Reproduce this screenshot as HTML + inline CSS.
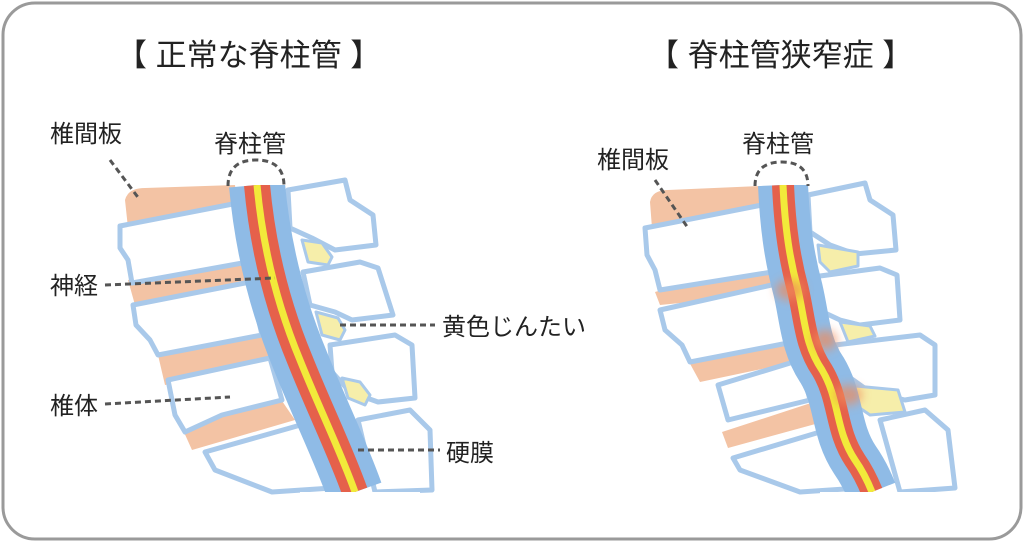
<!DOCTYPE html>
<html><head><meta charset="utf-8"><style>
html,body{margin:0;padding:0;background:#fff;}
svg{display:block;}
text{font-family:"Liberation Sans","Noto Sans CJK JP",sans-serif;fill:#222;}
</style></head><body>
<svg width="1024" height="542" viewBox="0 0 1024 542" xmlns="http://www.w3.org/2000/svg">
<defs>
<filter id="bl" x="-50%" y="-50%" width="200%" height="200%"><feGaussianBlur stdDeviation="5"/></filter>
</defs>
<rect x="3" y="3" width="1018" height="536" rx="32" fill="#fff" stroke="#9a9a9a" stroke-width="3"/>

<text x="116" y="66" font-size="31">【 正常な脊柱管 】</text>
<text x="648" y="66" font-size="31">【 脊柱管狭窄症 】</text>

<!-- LEFT -->
<g stroke-linejoin="round">
<g fill="#f3c3a4">
<path d="M125 200 Q128 188 145 188 L235 185 L238 212 L128 228 Z"/>
<path d="M128 280 L240 255 L250 285 L135 305 Z"/>
<path d="M158 355 L262 330 L272 365 L165 385 Z"/>
<path d="M183 430 L280 398 L295 420 L192 450 Z"/>
</g>
<g fill="#fff" stroke="#a9c9ea" stroke-width="5">
<path d="M120 226 L238 203 L248 262 L132 283 L128 260 L120 248 Z"/>
<path d="M133 305 L250 282 L262 335 L158 355 L150 340 L136 325 Z"/>
<path d="M168 380 L270 358 L282 400 L222 415 L185 432 L175 415 Z"/>
<path d="M205 452 L290 428 L318 420 L332 488 L272 492 L215 470 Z"/>
<path d="M288 190 L345 180 L350 200 L373 215 L376 245 L335 250 L312 238 L290 228 Z"/>
<path d="M303 272 L360 262 L378 268 L393 315 L352 320 L335 312 L310 305 Z"/>
<path d="M330 345 L395 335 L412 345 L415 398 L378 402 L350 392 L332 372 Z"/>
<path d="M358 420 L410 410 L430 430 L432 490 L375 492 Z"/>
</g>
<g fill="#f6eeaa" stroke="#a9c9ea" stroke-width="3">
<path d="M302 240 L322 243 L332 257 L328 265 L308 262 Z"/>
<path d="M316 312 L338 318 L345 330 L340 340 L322 335 Z"/>
<path d="M342 378 L360 382 L370 395 L365 405 L348 398 Z"/>
</g>
<path d="M257 185 C262 240 275 300 300 360 C320 410 340 450 355 492" fill="none" stroke="#8fbbe6" stroke-width="56"/>
<path d="M257 185 C262 240 275 300 300 360 C320 410 340 450 355 492" fill="none" stroke="#e5614b" stroke-width="26"/>
<path d="M257 185 C262 240 275 300 300 360 C320 410 340 450 355 492" fill="none" stroke="#f2ea3a" stroke-width="7"/>
</g>
<rect x="220" y="170" width="80" height="15" fill="#fff"/>
<rect x="300" y="492" width="120" height="20" fill="#fff"/>

<!-- RIGHT -->
<g stroke-linejoin="round">
<g fill="#f3c3a4">
<path d="M650 202 Q652 190 668 190 L760 186 L762 214 L652 228 Z"/>
<path d="M655 292 L780 255 L790 292 L660 305 Z"/>
<path d="M688 360 L795 326 L805 360 L700 382 Z"/>
<path d="M722 432 L820 400 L830 420 L728 448 Z"/>
</g>
<g fill="#fff" stroke="#a9c9ea" stroke-width="5">
<path d="M645 228 L762 205 L772 272 L660 290 L655 270 L647 255 Z"/>
<path d="M660 310 L785 282 L793 342 L690 362 L682 345 L665 330 Z"/>
<path d="M718 385 L800 360 L810 400 L728 420 Z"/>
<path d="M733 458 L820 432 L848 420 L860 488 L800 492 L740 470 Z"/>
<path d="M808 195 L865 183 L870 200 L893 215 L896 250 L855 254 L830 245 L810 232 Z"/>
<path d="M805 278 L880 268 L897 275 L900 320 L860 325 L840 320 L808 305 Z"/>
<path d="M835 345 L920 335 L935 345 L935 395 L905 400 L870 392 L842 372 Z"/>
<path d="M880 420 L925 410 L948 430 L955 488 L900 492 Z"/>
</g>
<g fill="#f6eeaa" stroke="#a9c9ea" stroke-width="3">
<path d="M818 245 L858 252 L858 266 L830 272 L820 262 Z"/>
<path d="M840 322 L870 326 L875 336 L848 342 Z"/>
<path d="M845 385 L898 390 L905 412 L870 415 L848 400 Z"/>
</g>
<path d="M783 185 C785 230 790 260 798 290 C805 320 805 345 822 370 C840 400 835 430 855 460 C862 470 868 482 872 492" fill="none" stroke="#8fbbe6" stroke-width="50"/>
<path d="M783 185 C785 230 790 260 798 290 C805 320 805 345 822 370 C840 400 835 430 855 460 C862 470 868 482 872 492" fill="none" stroke="#e5614b" stroke-width="22"/>
<path d="M783 185 C785 230 790 260 798 290 C805 320 805 345 822 370 C840 400 835 430 855 460 C862 470 868 482 872 492" fill="none" stroke="#f2ea3a" stroke-width="7"/>
<g filter="url(#bl)" fill="#f08a5a" opacity="0.7">
<ellipse cx="790" cy="290" rx="14" ry="10"/>
<ellipse cx="825" cy="340" rx="12" ry="10"/>
<ellipse cx="848" cy="395" rx="14" ry="10"/>
</g>
</g>
<rect x="740" y="170" width="80" height="15" fill="#fff"/>
<rect x="820" y="492" width="120" height="20" fill="#fff"/>

<g fill="none" stroke="#555" stroke-width="3" stroke-dasharray="6,4">
<path d="M228 186 Q228 160 256 160 Q284 160 284 186"/>
<path d="M110 160 L140 200"/>
<path d="M105 285 L275 278"/>
<path d="M105 404 L230 397"/>
<path d="M340 325 L435 325"/>
<path d="M358 450 L440 450"/>
<path d="M755 186 Q755 162 782 162 Q808 162 808 186"/>
<path d="M655 180 L688 228"/>
</g>
<g font-size="24">
<text x="50" y="142">椎間板</text>
<text x="214" y="152">脊柱管</text>
<text x="50" y="294">神経</text>
<text x="50" y="414">椎体</text>
<text x="442" y="335">黄色じんたい</text>
<text x="446" y="461">硬膜</text>
<text x="597" y="168">椎間板</text>
<text x="742" y="152">脊柱管</text>
</g>
</svg>
</body></html>
